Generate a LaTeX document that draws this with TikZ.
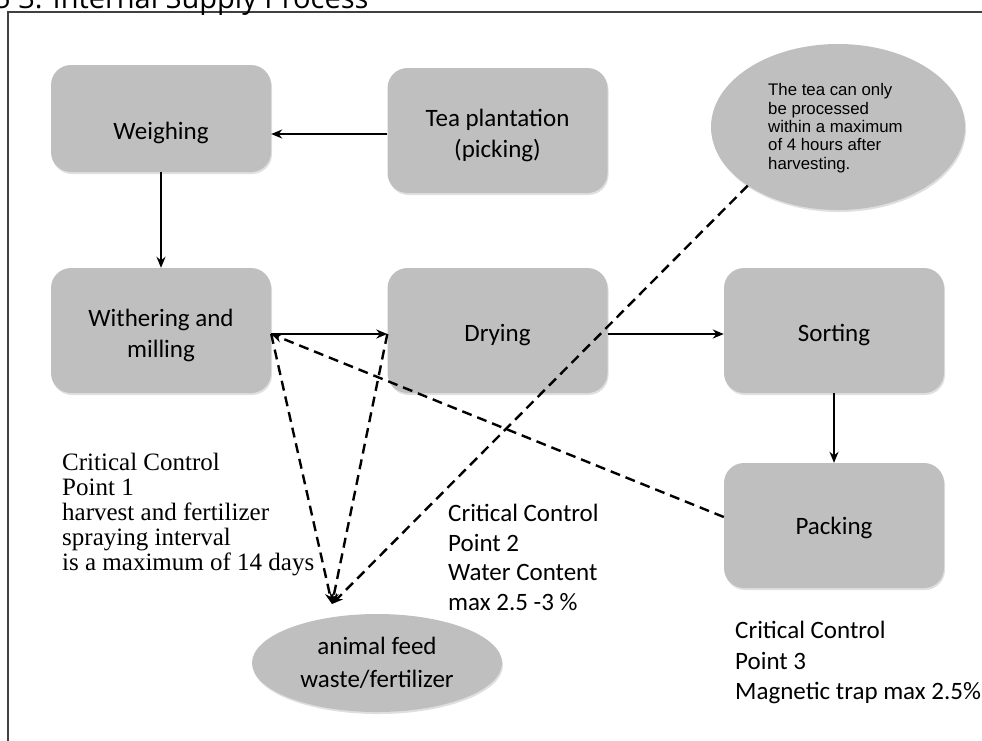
\documentclass[tikz,border=0pt]{standalone}
\usepackage{fontspec}
\setmainfont{Carlito}
\newfontfamily\serifnote{Liberation Serif}
\newfontfamily\arialnote{Liberation Sans}
\newfontfamily\titlefont{Open Sans}
\usetikzlibrary{arrows.meta,shapes.geometric,shadows}
\definecolor{boxgray}{HTML}{BFBFBF}
\tikzset{
  stepbox/.style={draw=none, fill=boxgray, rounded corners=20pt, minimum width=220pt,
    minimum height=125pt,
    drop shadow={opacity=0.25, shadow xshift=1pt, shadow yshift=-2pt}},
  boxtext/.style={align=center, font=\fontsize{25}{31}\selectfont, yshift=-4.5pt, inner sep=0pt},
  bubble/.style={ellipse, fill=boxgray, draw=none,
    drop shadow={opacity=0.25, shadow xshift=1pt, shadow yshift=-2pt}},
  flow/.style={-{Stealth[length=11pt,width=9pt]}, line width=2pt},
  dflow/.style={-{Stealth[length=11pt,width=9pt]}, line width=2.4pt, dash pattern=on 10pt off 6pt},
  cctext/.style={anchor=north west, align=left, inner sep=0pt}
}
\begin{document}
\begin{tikzpicture}[x=1pt,y=-1pt]
\useasboundingbox (0,0) rectangle (982,740);
% frame and cut-off title
\draw[line width=1.5pt, draw=black!75] (8,760) -- (8,12) -- (1000,12);
\node[anchor=base west, inner sep=0pt, font=\titlefont\fontsize{29}{32}\selectfont] (title) at (-6,8) {5 3. Internal Supply Process};

% boxes
\node[stepbox, minimum height=107pt, label={[boxtext,yshift=-10pt]center:Weighing}] (weigh) at (161,118.5) {};
\node[stepbox, label={[boxtext]center:Tea plantation\\(picking)}] (tea) at (497.5,130.5) {};
\node[stepbox, label={[boxtext]center:Withering and\\milling}] (wither) at (161,330.5) {};
\node[stepbox, label={[boxtext]center:Drying}] (dry) at (497.5,330.5) {};
\node[stepbox, label={[boxtext]center:Sorting}] (sort) at (834,330.5) {};
\node[stepbox, label={[boxtext,yshift=2pt]center:Packing}] (pack) at (834,525.5) {};

% ellipses
\node[bubble, minimum width=254pt, minimum height=166pt] (note) at (838,127) {};
\node[cctext, font=\arialnote\fontsize{16.8}{18.3}\selectfont] (notetext) at (768,83.5)
  {The tea can only\\be processed\\within a maximum\\of 4 hours after\\harvesting.};
\node[bubble, minimum width=250pt, minimum height=98pt, align=center,
  font=\fontsize{25}{33}\selectfont] (feed) at (377,663) {animal feed\\waste/fertilizer};

\coordinate (sink) at (332,604);
\coordinate (wj) at (wither.east |- 0,334);
\coordinate (dj) at (dry.west |- 0,334);

% solid connectors
\draw[flow] (tea.west |- 0,134) -- (weigh.east |- 0,134);
\draw[flow] (weigh.south) -- (wither.north);
\draw[flow] (wj) -- (dj);
\draw[flow] (dry.east |- 0,334) -- (sort.west |- 0,334);
\draw[flow] (sort.south) -- (pack.north);

% dashed connectors
\draw[dflow] (wj) -- (sink);
\draw[dflow] (dj) -- (sink);
\draw[dflow] (note.-147) -- (sink);
\draw[dflow] (pack.west |- 0,517) -- (wj);

% critical control texts
\node[cctext, font=\serifnote\fontsize{25}{25}\selectfont] (ccp1) at (62,453)
  {Critical Control\\Point 1\\harvest and fertilizer\\spraying interval\\is a maximum of 14 days};
\node[cctext, font=\fontsize{25}{29.7}\selectfont] (ccp2) at (448,504)
  {Critical Control\\Point 2\\Water Content\\max 2.5 -3 \%};
\node[cctext, font=\fontsize{25}{30.5}\selectfont] (ccp3) at (735,621)
  {Critical Control\\Point 3\\Magnetic trap max 2.5\%};
\end{tikzpicture}
\end{document}
